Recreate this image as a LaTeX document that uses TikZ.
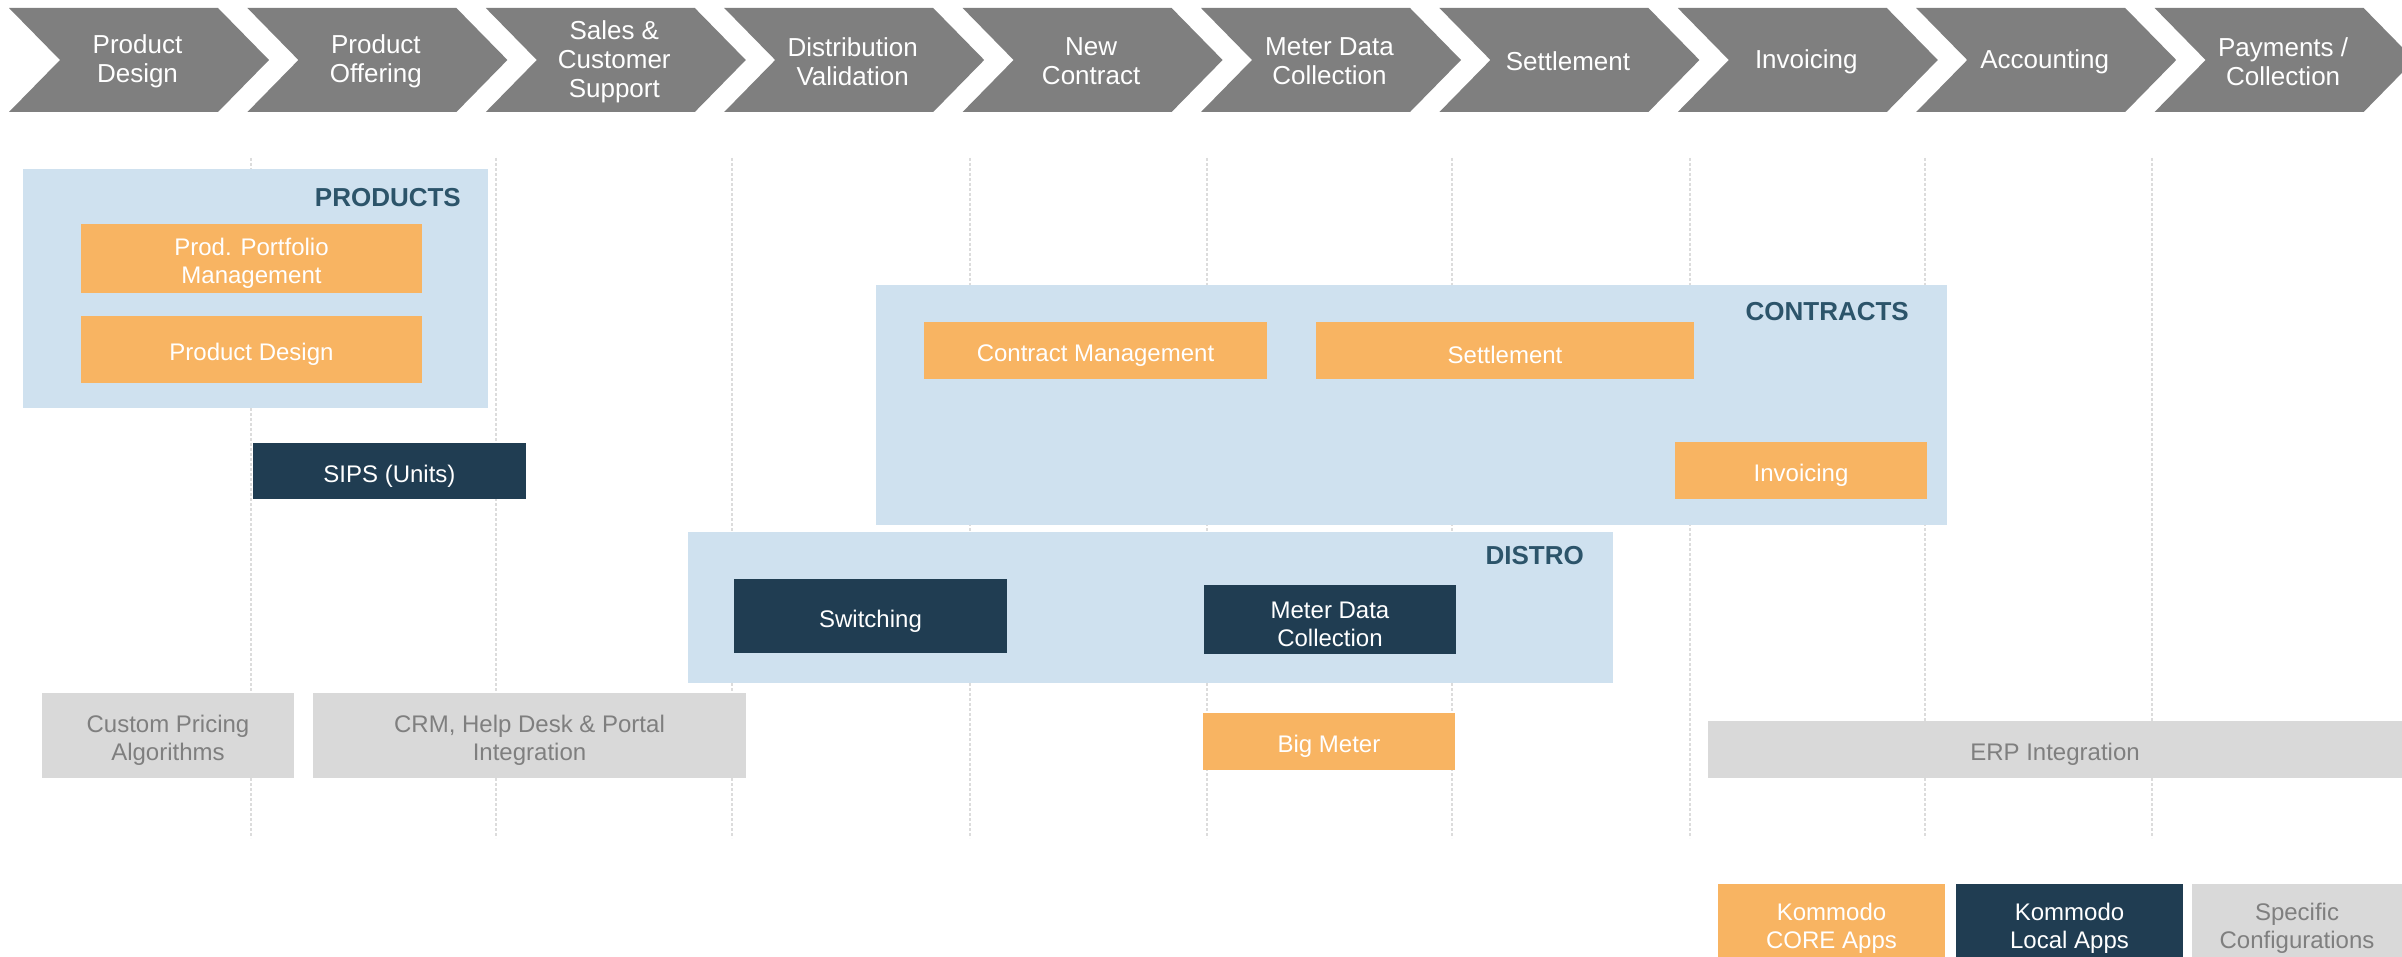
\documentclass[tikz,border=0pt]{standalone}
\usepackage{fontspec}
\setmainfont{Liberation Sans}
\usepackage{tikz}

\definecolor{stagegray}{RGB}{127,127,127}
\definecolor{areablue}{RGB}{207,225,239}
\definecolor{coreorange}{RGB}{248,180,98}
\definecolor{localnavy}{RGB}{32,61,82}
\definecolor{specgray}{RGB}{217,217,217}
\definecolor{spectext}{RGB}{127,127,127}
\definecolor{titleteal}{RGB}{44,84,106}
\definecolor{gridgray}{RGB}{220,220,220}

\tikzset{
  textdrop/.style={execute at begin node={\rule{0pt}{#1}}},
  appbox/.style={inner sep=0pt, align=center, text=white, font=\fontsize{24}{28}\selectfont, textdrop=27pt},
  twoline/.style={textdrop=55pt},
  coreapp/.style={appbox, fill=coreorange},
  localapp/.style={appbox, fill=localnavy},
  specific/.style={appbox, fill=specgray, text=spectext},
  legend/.style={textdrop=60pt},
  area/.style={fill=areablue, inner sep=0pt},
  areatitle/.style={anchor=east, inner sep=0pt, text=titleteal, font=\fontsize{26}{30}\selectfont\bfseries},
  stagelabel/.style={align=center, inner sep=0pt, text=white, font=\fontsize{26}{29}\selectfont},
  gridline/.style={draw=gridgray, line width=1.5pt, dash pattern=on 3pt off 2pt},
}

\begin{document}
\begin{tikzpicture}[x=1pt, y=-1pt]
\useasboundingbox (0,0) rectangle (2402,957);

% Process stages along the top
\foreach \lbl [count=\i from 0] in {{Product\\Design}, {Product\\Offering}, {Sales \&\\Customer\\Support}, {Distribution\\Validation}, {New\\Contract}, {Meter Data\\Collection}, {Settlement}, {Invoicing}, {Accounting}, {Payments /\\Collection}} {
  \pgfmathsetmacro{\sx}{9 + 238.4*\i}
  \fill[stagegray] (\sx,8) -- ++(209,0) -- ++(51,52) -- ++(-51,52) -- ++(-209,0) -- ++(51,-52) -- cycle;
  \node[stagelabel] (stage\i) at ({\sx+128.5},61.5) {\lbl};
}

% Column separators
\foreach \gx in {251,496,732,970,1207,1452,1690,1925,2152}
  \draw[gridline] (\gx,158) -- (\gx,838);

% Products
\node[area, minimum width=465pt, minimum height=239pt] (products) at (255.5,288.5) {};
\node[areatitle] (productstitle) at (461,197.5) {PRODUCTS};
\node[coreapp, twoline, minimum width=341pt, minimum height=69pt] (portfolio) at (251.5,258.5) {Prod. Portfolio\\Management};
\node[coreapp, minimum width=341pt, minimum height=67pt] (proddesign) at (251.5,349.5) {Product Design};
\node[localapp, minimum width=273pt, minimum height=56pt] (sips) at (389.5,471) {SIPS (Units)};

% Contracts
\node[area, minimum width=1071pt, minimum height=240pt] (contracts) at (1411.5,405) {};
\node[areatitle] (contractstitle) at (1909,312) {CONTRACTS};
\node[coreapp, minimum width=343pt, minimum height=57pt] (contractmgmt) at (1095.5,350.5) {Contract Management};
\node[coreapp, minimum width=378pt, minimum height=57pt] (settlement) at (1505,350.5) {Settlement};
\node[coreapp, minimum width=252pt, minimum height=57pt] (invoicing) at (1801,470.5) {Invoicing};

% Distro
\node[area, minimum width=925pt, minimum height=151pt] (distro) at (1150.5,607.5) {};
\node[areatitle] (distrotitle) at (1584,556) {DISTRO};
\node[localapp, minimum width=273pt, minimum height=74pt] (switching) at (870.5,616) {Switching};
\node[localapp, twoline, minimum width=252pt, minimum height=69pt] (meterdata) at (1330,619.5) {Meter Data\\Collection};
\node[coreapp, minimum width=252pt, minimum height=57pt] (bigmeter) at (1329,741.5) {Big Meter};

% Specific configurations
\node[specific, twoline, minimum width=252pt, minimum height=85pt] (pricing) at (168,735.5) {Custom Pricing\\Algorithms};
\node[specific, twoline, minimum width=433pt, minimum height=85pt] (crm) at (529.5,735.5) {CRM, Help Desk \& Portal\\Integration};
\node[specific, minimum width=694pt, minimum height=57pt] (erp) at (2055,749.5) {ERP Integration};

% Legend
\node[coreapp, legend, minimum width=227pt, minimum height=73pt] (legcore) at (1831.5,920.5) {Kommodo\\CORE Apps};
\node[localapp, legend, minimum width=227pt, minimum height=73pt] (leglocal) at (2069.5,920.5) {Kommodo\\Local Apps};
\node[specific, legend, minimum width=210pt, minimum height=73pt] (legspecific) at (2297,920.5) {Specific\\Configurations};

\end{tikzpicture}
\end{document}
